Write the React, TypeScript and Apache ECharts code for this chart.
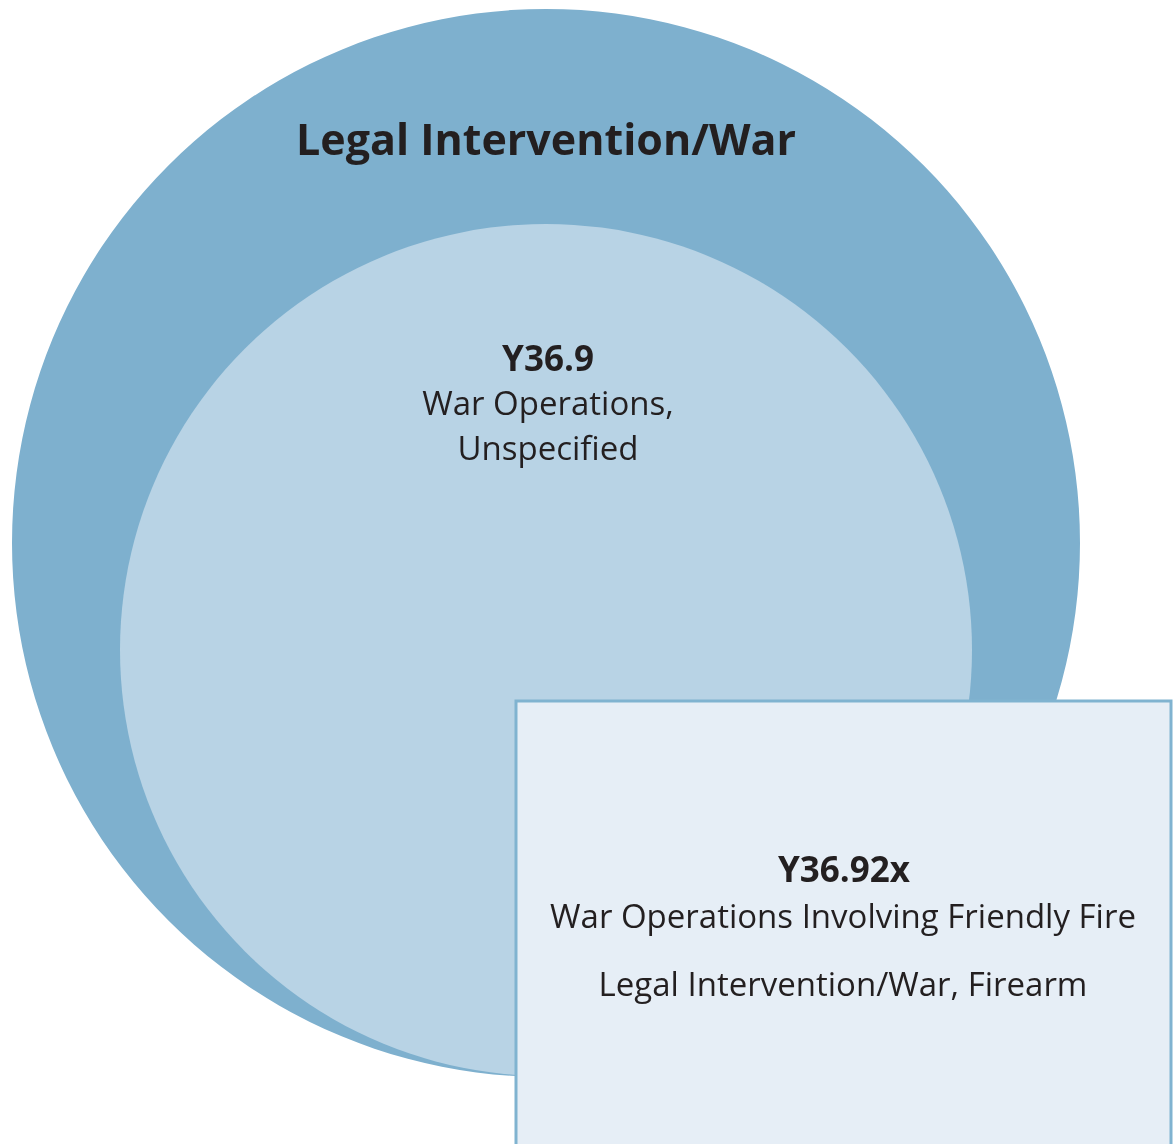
import React, { useEffect, useRef } from 'react';
import * as echarts from 'echarts';

// Nested-set diagram: outer circle, inner circle, overlapping box
const circleNames = ['Legal Intervention/War', 'Y36.9'];
const circleCenterX = [546, 546];
const circleCenterY = [543, 650];
const circleRadius = [534, 426];
const circleColors = ['#7EB0CE', '#B8D3E5'];

const boxName = 'Y36.92x';
const boxLeft = [516];
const boxTop = [701];
const boxRight = [1171];
const boxBottom = [1170];

const labelTexts = [
  'Legal Intervention/War',
  'Y36.9',
  'War Operations,',
  'Unspecified',
  'Y36.92x',
  'War Operations Involving Friendly Fire',
  'Legal Intervention/War, Firearm',
];
const labelX = [546, 548, 548, 548, 844, 843, 843];
const labelY = [138, 357, 402, 447, 868, 915, 983];
const labelBold = [true, true, false, false, true, false, false];
const labelSize = [43, 35, 33, 33, 35, 33, 33];

const FONT = '"Open Sans", "Noto Sans", sans-serif';

export default function App() {
  const ref = useRef<HTMLDivElement>(null);
  useEffect(() => {
    if (!ref.current) return;
    const chart = echarts.init(ref.current, undefined, { renderer: 'svg' });
    chart.setOption({
      animation: false,
      grid: { left: 0, right: 0, top: 0, bottom: 0 },
      xAxis: { type: 'value', min: 0, max: 1173, show: false },
      yAxis: { type: 'value', min: 0, max: 1144, inverse: true, show: false },
      series: [
        {
          type: 'custom',
          name: 'circles',
          silent: true,
          clip: false,
          data: circleCenterX.map((x, i) => [x, circleCenterY[i], circleRadius[i], i]),
          encode: { x: 0, y: 1 },
          renderItem: (params: any, api: any) => {
            const c = api.coord([api.value(0), api.value(1)]);
            const s = api.size([api.value(2), api.value(2)]);
            return {
              type: 'circle',
              shape: { cx: c[0], cy: c[1], r: Math.abs(s[0]) },
              style: { fill: circleColors[api.value(3)] },
            };
          },
        },
        {
          type: 'custom',
          name: boxName,
          silent: true,
          clip: false,
          data: boxLeft.map((l, i) => [l, boxTop[i], boxRight[i], boxBottom[i]]),
          encode: { x: [0, 2], y: [1, 3] },
          renderItem: (params: any, api: any) => {
            const p1 = api.coord([api.value(0), api.value(1)]);
            const p2 = api.coord([api.value(2), api.value(3)]);
            return {
              type: 'rect',
              shape: { x: p1[0], y: p1[1], width: p2[0] - p1[0], height: p2[1] - p1[1] },
              style: { fill: '#E6EEF6', stroke: '#80B3D0', lineWidth: 3 },
            };
          },
        },
        {
          type: 'custom',
          name: 'labels',
          silent: true,
          clip: false,
          data: labelX.map((x, i) => [x, labelY[i], i]),
          encode: { x: 0, y: 1 },
          renderItem: (params: any, api: any) => {
            const i = api.value(2);
            const p = api.coord([api.value(0), api.value(1)]);
            return {
              type: 'text',
              x: p[0],
              y: p[1],
              style: {
                text: labelTexts[i],
                fill: '#231F20',
                align: 'center',
                verticalAlign: 'middle',
                fontFamily: FONT,
                fontWeight: labelBold[i] ? 'bold' : 'normal',
                fontSize: labelSize[i],
              },
            };
          },
        },
      ],
    });
    return () => chart.dispose();
  }, []);
  return (
    <div
      ref={ref}
      style={{ position: 'fixed', left: 0, top: 0, width: 1173, height: 1144 }}
    />
  );
}
